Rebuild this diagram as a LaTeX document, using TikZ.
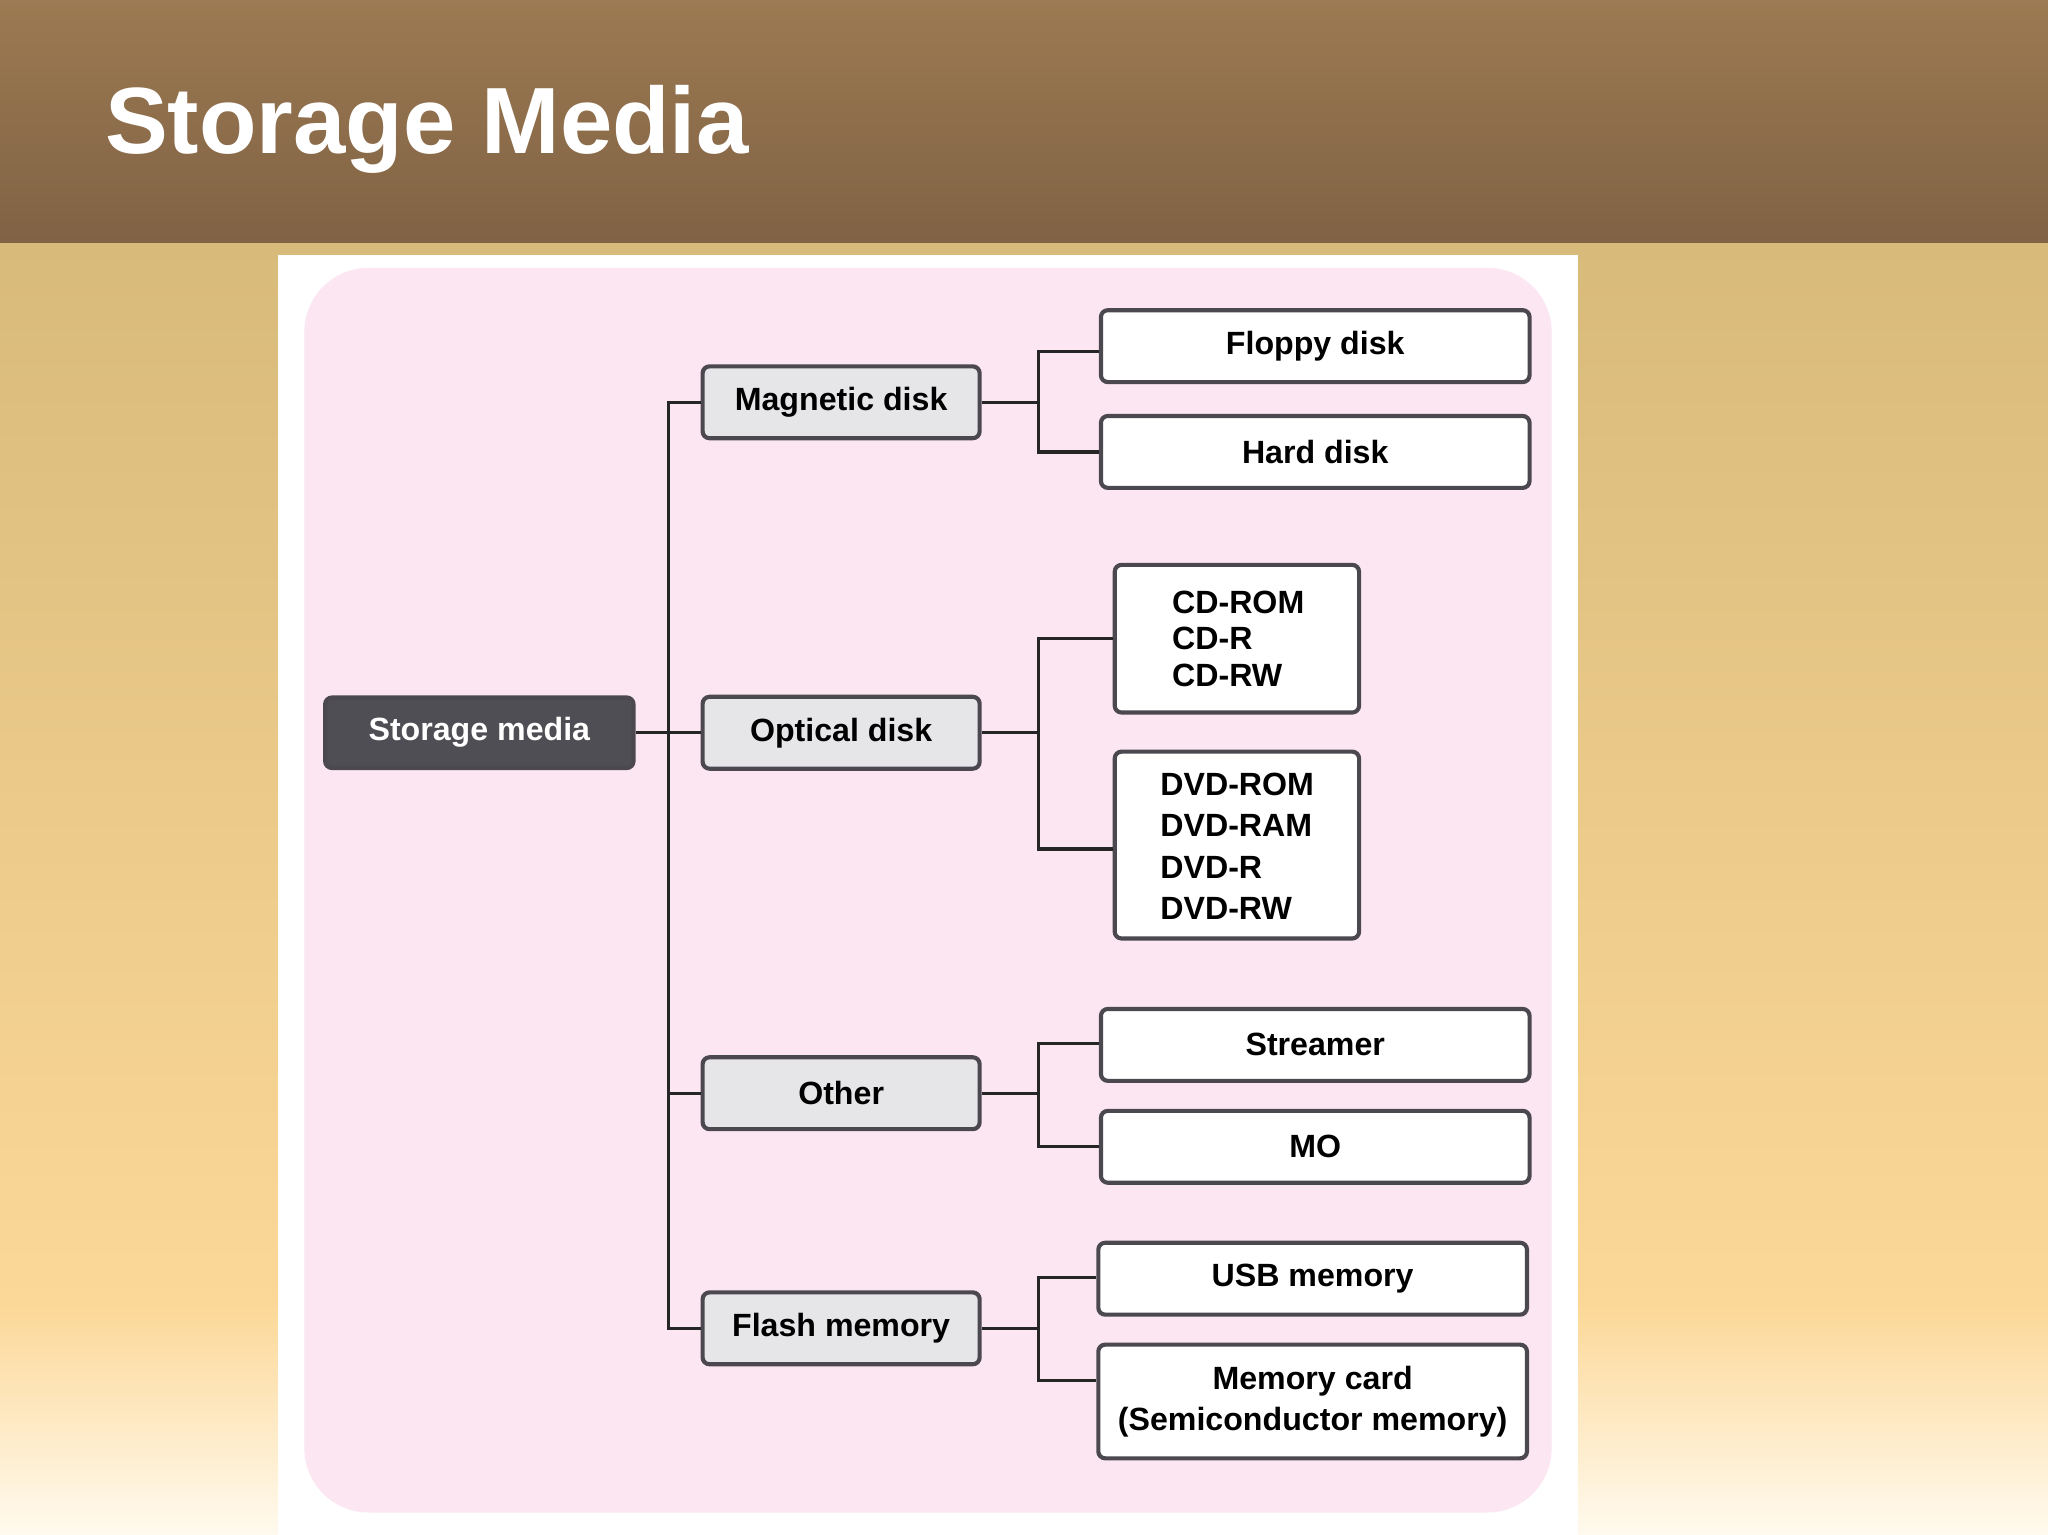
\documentclass[tikz,border=0pt]{standalone}
\usepackage{fontspec}
\setmainfont{Liberation Sans}
\definecolor{hdrA}{RGB}{156,122,82}
\definecolor{hdrB}{RGB}{128,98,68}
\definecolor{bgA}{RGB}{216,186,122}
\definecolor{bgB}{RGB}{252,216,152}
\definecolor{bgC}{RGB}{255,250,238}
\definecolor{pinkbg}{RGB}{252,230,242}
\definecolor{edgec}{RGB}{75,72,80}
\definecolor{lgray}{RGB}{230,229,232}
\definecolor{dgray}{RGB}{78,78,84}
\tikzset{
 box/.style={draw=edgec,line width=0.9pt,rounded corners=1.5pt,inner sep=0pt,font=\fontsize{7}{9}\selectfont\bfseries,text=black,align=center},
 mid/.style={box,fill=lgray,minimum width=2.12cm,minimum height=0.55cm},
 leaf/.style={box,fill=white,minimum width=3.28cm,minimum height=0.55cm},
 ln/.style={draw=black!85,line width=0.7pt}
}
\begin{document}
\begin{tikzpicture}[x=0.01cm,y=-0.01cm]
\useasboundingbox (0,0) rectangle (1568,1175);
\shade[top color=bgA,bottom color=bgB] (0,185) rectangle (1568,1000);
\shade[top color=bgB,bottom color=bgC] (0,1000) rectangle (1568,1175);
\shade[top color=hdrA,bottom color=hdrB] (0,0) rectangle (1568,186);
\node[anchor=west,text=white,font=\fontsize{20.5}{24}\selectfont\bfseries] (title) at (68,99) {Storage Media};
\fill[white] (213,195) rectangle (1208,1175);
\fill[pinkbg,rounded corners=14pt] (233,205) rectangle (1188,1158);
% nodes
\node[box,fill=dgray,text=white,minimum width=2.36cm,minimum height=0.54cm] (sm) at (367,561) {Storage media};
\node[mid] (mag) at (644,308) {Magnetic disk};
\node[mid] (opt) at (644,561) {Optical disk};
\node[mid] (oth) at (644,837) {Other};
\node[mid] (fla) at (644,1017) {Flash memory};
\node[leaf] (flo) at (1007,265) {Floppy disk};
\node[leaf] (hard) at (1007,346) {Hard disk};
\node[box,fill=white,minimum width=1.87cm,minimum height=1.13cm] (cd) at (947,489) {};
\node[anchor=west,font=\fontsize{7}{8}\selectfont\bfseries,align=left] (cdt) at (885,489) {CD-ROM\\CD-R\\CD-RW};
\node[box,fill=white,minimum width=1.87cm,minimum height=1.43cm] (dvd) at (947,647) {};
\node[anchor=west,font=\fontsize{7}{9}\selectfont\bfseries,align=left] (dvdt) at (876,648) {DVD-ROM\\DVD-RAM\\DVD-R\\DVD-RW};
\node[leaf] (str) at (1007,800) {Streamer};
\node[leaf] (mo) at (1007,878) {MO};
\node[leaf] (usb) at (1005,979) {USB memory};
\node[leaf,minimum height=0.87cm] (mc) at (1005,1073) {Memory card\\(Semiconductor memory)};
% connectors
\coordinate (t) at (512,0);
\coordinate (b) at (795,0);
\draw[ln] (sm.east) -- (opt.west);
\draw[ln] (mag.west) -- (mag.west -| t) -- (fla.west -| t) -- (fla.west);
\draw[ln] (oth.west) -- (oth.west -| t);
\draw[ln] (mag.east) -- (mag.east -| b);
\draw[ln] (flo.west |- 0,269) -- (b |- 0,269) -- (b |- hard.west) -- (hard.west);
\draw[ln] (opt.east) -- (opt.east -| b);
\draw[ln] (cd.west) -- (cd.west -| b) -- (b |- 0,650) -- (dvd.west |- 0,650);
\draw[ln] (oth.east) -- (oth.east -| b);
\draw[ln] (str.west |- 0,799) -- (b |- 0,799) -- (b |- 0,878) -- (mo.west |- 0,878);
\draw[ln] (fla.east) -- (fla.east -| b);
\draw[ln] (usb.west |- 0,978) -- (b |- 0,978) -- (b |- 0,1057) -- (mc.west |- 0,1057);
\end{tikzpicture}
\end{document}
